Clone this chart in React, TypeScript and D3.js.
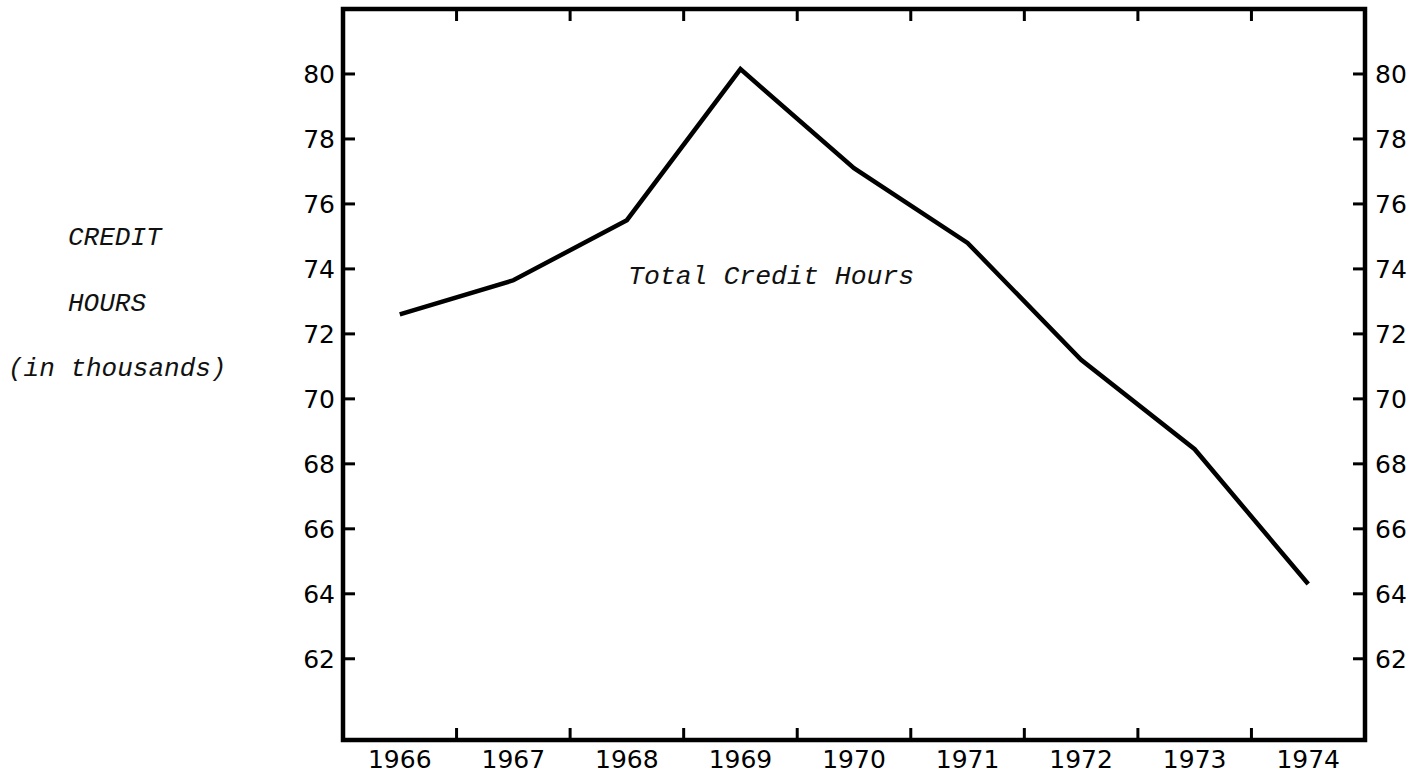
import * as d3 from 'd3';
import React from 'react';

// values (thousands of credit hours)
const years = [1966, 1967, 1968, 1969, 1970, 1971, 1972, 1973, 1974];
const creditHours = [72.6, 73.65, 75.5, 80.15, 77.1, 74.8, 71.2, 68.45, 64.3];
const yTicks = [62, 64, 66, 68, 70, 72, 74, 76, 78, 80];
const xBoundaries = [1966.5, 1967.5, 1968.5, 1969.5, 1970.5, 1971.5, 1972.5, 1973.5];
const titleLines = ['CREDIT', 'HOURS', '(in thousands)'];

const width = 1421;
const height = 774;
const frame = { left: 343, right: 1365, top: 9, bottom: 740 };

const typewriter = '"Liberation Mono", "Courier New", monospace';
const sans = '"DejaVu Sans", sans-serif';

export default function App() {
    // Set scales
    const x = d3.scaleLinear()
        .domain([1965.5, 1974.5])
        .range([frame.left, frame.right]);

    const y = d3.scaleLinear()
        .domain([59.5, 82])
        .range([frame.bottom, frame.top]);

    const line = d3.line<number>()
        .x((_, i) => x(years[i]))
        .y(d => y(d));

    const tickLen = 12;

    return (
        <svg width={width} height={height}
            style={{ position: 'absolute', left: 0, top: 0, background: '#fff' }}>

            {/* frame */}
            <rect x={frame.left} y={frame.top}
                width={frame.right - frame.left} height={frame.bottom - frame.top}
                fill="none" stroke="#000" strokeWidth={4.5} />

            {/* top and bottom ticks, pointing inward */}
            {xBoundaries.map(b => (
                <g key={b}>
                    <line x1={x(b)} x2={x(b)} y1={frame.top} y2={frame.top + tickLen}
                        stroke="#000" strokeWidth={3} />
                    <line x1={x(b)} x2={x(b)} y1={frame.bottom} y2={frame.bottom - tickLen}
                        stroke="#000" strokeWidth={3} />
                </g>
            ))}

            {/* year labels */}
            {years.map(yr => (
                <text key={yr} x={x(yr)} y={768} textAnchor="middle"
                    fontFamily={sans} fontSize={25} fill="#000">{yr}</text>
            ))}

            {/* left and right ticks + labels */}
            {yTicks.map(t => (
                <g key={t}>
                    <line x1={frame.left} x2={frame.left + tickLen} y1={y(t)} y2={y(t)}
                        stroke="#000" strokeWidth={3} />
                    <line x1={frame.right} x2={frame.right - tickLen} y1={y(t)} y2={y(t)}
                        stroke="#000" strokeWidth={3} />
                    <text x={frame.left - 8} y={y(t)} dy="0.36em" textAnchor="end"
                        fontFamily={sans} fontSize={25} fill="#000">{t}</text>
                    <text x={frame.right + 10} y={y(t)} dy="0.36em" textAnchor="start"
                        fontFamily={sans} fontSize={25} fill="#000">{t}</text>
                </g>
            ))}

            {/* the series */}
            <path d={line(creditHours) ?? ''} fill="none" stroke="#000"
                strokeWidth={4.5} strokeLinejoin="miter" />

            {/* series label */}
            <text x={628} y={284} fontFamily={typewriter} fontStyle="italic"
                fontSize={26.5} fill="#111">Total Credit Hours</text>

            {/* y axis title */}
            {titleLines.map((s, i) => (
                <text key={s} x={i === 2 ? 8 : 68} y={245 + i * 65.5}
                    fontFamily={typewriter} fontStyle="italic" fontSize={26}
                    fill="#111">{s}</text>
            ))}
        </svg>
    );
}
